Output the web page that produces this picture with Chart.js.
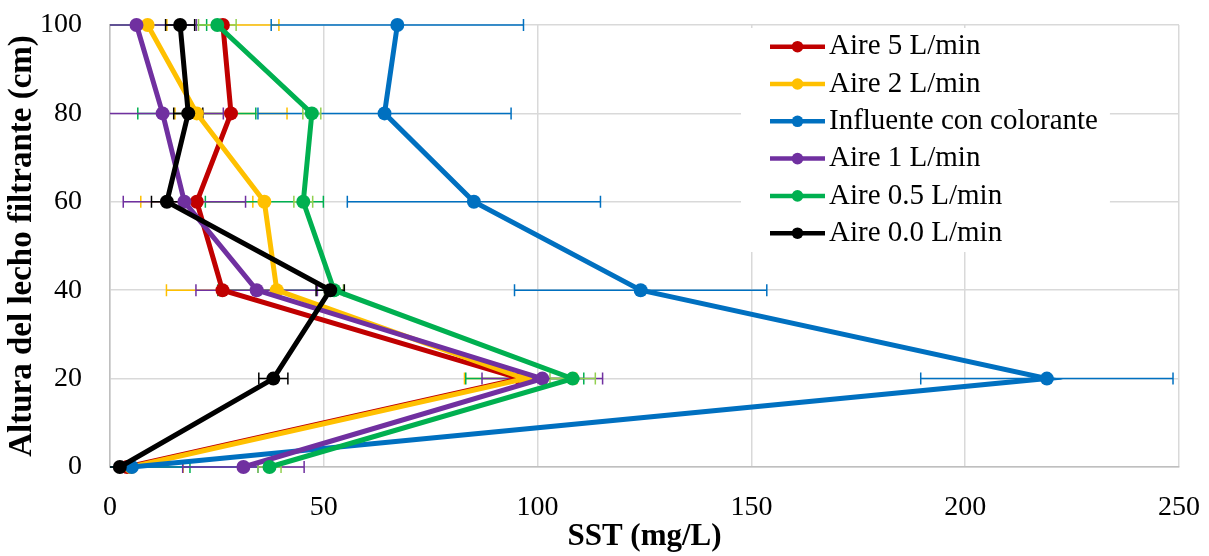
<!DOCTYPE html>
<html>
<head>
<meta charset="utf-8">
<script src="https://cdn.jsdelivr.net/npm/chart.js@4.4.0/dist/chart.umd.min.js"></script>
<style>
  html, body { margin: 0; padding: 0; background: #fff; }
  #wrap { width: 1209px; height: 556px; }
</style>
</head>
<body>
<div id="wrap"><canvas id="c" width="1209" height="556"></canvas></div>
<script>
/* ── datos ── */
const alturas = [0, 20, 40, 60, 80, 100];

const seriesNames = ['Aire 5 L/min', 'Aire 2 L/min', 'Influente con colorante', 'Aire 1 L/min', 'Aire 0.5 L/min', 'Aire 0.0 L/min'];

const sstAire5      = [4.0, 96.0, 26.3, 20.3, 28.3, 26.4];
const sstAire2      = [4.9, 97.0, 39.0, 36.1, 20.3, 8.8];
const sstInfluente  = [5.1, 219.1, 124.1, 85.1, 64.2, 67.2];
const sstAire1      = [31.2, 101.1, 34.3, 17.4, 12.3, 6.2];
const sstAire05     = [37.3, 108.2, 52.4, 45.2, 47.2, 25.1];
const sstAire0      = [2.3, 38.2, 51.5, 13.3, 18.3, 16.4];

// desviación (barras de error horizontales)
const errAire5      = [13.1, 13.1, 13.1, 13.1, 13.1, 13.1];
const errAire2      = [13.8, 13.8, 13.8, 13.8, 13.8, 13.8];
const errInfluente  = [29.5, 29.5, 29.5, 29.6, 29.6, 29.5];
const errAire1      = [14.2, 14.1, 14.2, 14.3, 14.2, 14.0];
const errAire05     = [2.7, 5.3, 2.2, 2.2, 2.1, 4.4];
const errAire0      = [3.4, 3.4, 3.3, 3.6, 3.4, 3.4];

const xTicks = [0, 50, 100, 150, 200, 250];
const yTicks = [0, 20, 40, 60, 80, 100];

const colors    = ['#C00000', '#FFC000', '#0070C0', '#7030A0', '#00B050', '#000000'];
const errColors = ['#FFC000', '#00B050', '#0070C0', '#7030A0', '#92D050', '#000000'];

const values = [sstAire5, sstAire2, sstInfluente, sstAire1, sstAire05, sstAire0];
const errors = [errAire5, errAire2, errInfluente, errAire1, errAire05, errAire0];

const datasets = seriesNames.map((name, i) => ({
  label: name,
  data: values[i].map((v, k) => ({ x: v, y: alturas[k] })),
  errX: errors[i],
  errColor: errColors[i],
  showLine: true,
  borderColor: colors[i],
  backgroundColor: colors[i],
  borderWidth: 5,
  pointRadius: 7,
  pointHoverRadius: 7,
  pointBorderWidth: 0,
  pointBackgroundColor: colors[i],
  tension: 0,
  clip: false,
  order: seriesNames.length - 1 - i
}));

/* barras de error, detrás de las series */
const errorBars = {
  id: 'errorBars',
  beforeDatasetsDraw(chart) {
    const { ctx, chartArea: a, scales: { x, y } } = chart;
    ctx.save();
    ctx.beginPath();
    ctx.rect(a.left, a.top - 10, a.right - a.left + 2, a.bottom - a.top + 20);
    ctx.clip();
    ctx.lineWidth = 1.5;
    chart.data.datasets.forEach(ds => {
      ctx.strokeStyle = ds.errColor;
      ds.data.forEach((p, k) => {
        const e = ds.errX[k];
        const py = y.getPixelForValue(p.y);
        const x1 = x.getPixelForValue(p.x - e);
        const x2 = x.getPixelForValue(p.x + e);
        ctx.beginPath();
        ctx.moveTo(x1, py); ctx.lineTo(x2, py);
        ctx.moveTo(x1, py - 6); ctx.lineTo(x1, py + 6);
        ctx.moveTo(x2, py - 6); ctx.lineTo(x2, py + 6);
        ctx.stroke();
      });
    });
    ctx.restore();
  }
};

/* leyenda dentro del área del gráfico */
const legendBox = {
  id: 'legendBox',
  afterDraw(chart) {
    const ctx = chart.ctx;
    ctx.save();
    ctx.font = '29px "Liberation Serif"';
    const w = Math.max(...seriesNames.map(n => ctx.measureText(n).width));
    const x0 = 741, y0 = 28, textX = 829;
    ctx.fillStyle = '#fff';
    ctx.fillRect(x0, y0, textX + w + 12 - x0, 224);
    seriesNames.forEach((n, i) => {
      const ry = 46.7 + i * 37.3;
      ctx.strokeStyle = colors[i];
      ctx.lineWidth = 4.5;
      ctx.beginPath(); ctx.moveTo(770, ry); ctx.lineTo(825, ry); ctx.stroke();
      ctx.fillStyle = colors[i];
      ctx.beginPath(); ctx.arc(797.5, ry, 5.8, 0, Math.PI * 2); ctx.fill();
      ctx.fillStyle = '#000';
      ctx.textBaseline = 'middle';
      ctx.textAlign = 'left';
      ctx.fillText(n, textX, ry);
    });
    ctx.restore();
  }
};

new Chart(document.getElementById('c').getContext('2d'), {
  type: 'scatter',
  data: { datasets },
  plugins: [errorBars, legendBox],
  options: {
    responsive: false,
    animation: false,
    layout: { padding: { left: 0, right: 30, top: 25, bottom: 0 } },
    plugins: { legend: { display: false }, tooltip: { enabled: false } },
    scales: {
      x: {
        type: 'linear', min: 0, max: 250,
        afterBuildTicks: s => { s.ticks = xTicks.map(v => ({ value: v })); },
        afterFit: s => { s.height = 89; },
        ticks: { color: '#000', padding: 0, font: { family: 'Liberation Serif', size: 28 } },
        grid: { color: '#D9D9D9', lineWidth: 1.5, drawTicks: true, tickLength: 24, tickColor: 'rgba(0,0,0,0)' },
        border: { color: '#BFBFBF', width: 1.5 },
        title: { display: true, text: 'SST (mg/L)', color: '#000', padding: { top: 0, bottom: 0 },
                 font: { family: 'Liberation Serif', size: 31, weight: 'bold' } }
      },
      y: {
        type: 'linear', min: 0, max: 100,
        afterBuildTicks: s => { s.ticks = yTicks.map(v => ({ value: v })); },
        afterFit: s => { s.width = 110; },
        ticks: { color: '#000', padding: 0, font: { family: 'Liberation Serif', size: 28 } },
        grid: { color: '#D9D9D9', lineWidth: 1.5, drawTicks: true, tickLength: 28, tickColor: 'rgba(0,0,0,0)' },
        border: { color: '#BFBFBF', width: 1.5 },
        title: { display: true, text: 'Altura del lecho filtrante (cm)', color: '#000', padding: { top: 3, bottom: 0 },
                 font: { family: 'Liberation Serif', size: 33, weight: 'bold' } }
      }
    }
  }
});
</script>
</body>
</html>
